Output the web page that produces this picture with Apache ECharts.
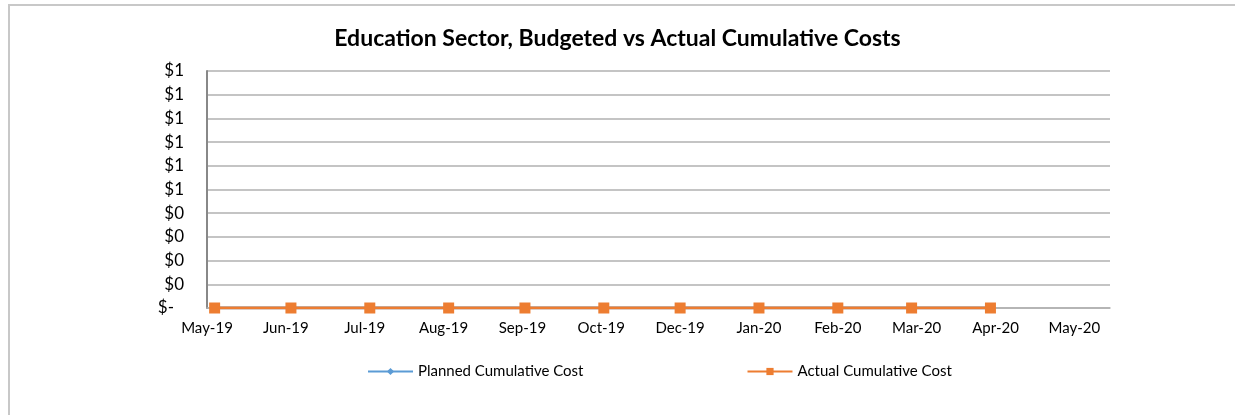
<!DOCTYPE html>
<html lang="en" style="height: 100%">
<head>
  <meta charset="utf-8">
</head>
<body style="height: 100%; margin: 0; background: #fff">
  <div id="frame" style="position: absolute; left: 8px; top: 4px; right: 0; bottom: 0; border-top: 2px solid #c8c8c8; border-left: 2px solid #c8c8c8;"></div>
  <div id="container" style="position: absolute; left: 0; top: 0; width: 1235px; height: 415px"></div>
  <script type="text/javascript" src="https://cdn.jsdelivr.net/npm/echarts@6/dist/echarts.min.js"></script>

  <script type="text/javascript">
    // data points (first of each month) and their cumulative cost values
    var pointDates = ['2019-06-01', '2019-07-01', '2019-08-01', '2019-09-01', '2019-10-01', '2019-11-01',
      '2019-12-01', '2020-01-01', '2020-02-01', '2020-03-01', '2020-04-01'];
    var plannedCost = [0, 0, 0, 0, 0, 0, 0, 0, 0, 0, 0];
    var actualCost = [0, 0, 0, 0, 0, 0, 0, 0, 0, 0, 0];

    // excel date axis: first tick 29 May 2019, major unit 31 days
    var axisStart = '2019-05-29';
    var tickLabels = ['May-19', 'Jun-19', 'Jul-19', 'Aug-19', 'Sep-19', 'Oct-19',
      'Dec-19', 'Jan-20', 'Feb-20', 'Mar-20', 'Apr-20', 'May-20'];

    function dayOffset(s) {
      return (Date.parse(s) - Date.parse(axisStart)) / 86400000;
    }
    function toPoints(values) {
      return values.map(function (v, i) { return [dayOffset(pointDates[i]), v]; });
    }

    var font = 'Lato, "Open Sans", sans-serif';
    var dom = document.getElementById('container');
    var myChart = echarts.init(dom, null, { renderer: 'canvas' });
    var option = {
      animation: false,
      title: {
        text: 'Education Sector, Budgeted vs Actual Cumulative Costs',
        left: 'center',
        top: 22,
        textStyle: { fontFamily: font, fontSize: 23, fontWeight: 'bold', color: '#000' }
      },
      legend: {
        left: 362,
        top: 359,
        itemWidth: 45,
        itemHeight: 9,
        itemGap: 163,
        textStyle: { fontFamily: font, fontSize: 15, color: '#000' },
        data: ['Planned Cumulative Cost', 'Actual Cumulative Cost']
      },
      grid: { left: 207, right: 125, top: 71, bottom: 107 },
      xAxis: {
        type: 'value',
        min: 0,
        max: 355,
        interval: 31,
        axisLine: { show: true, lineStyle: { color: '#b0b0b0', width: 1.5 } },
        axisTick: { show: false },
        splitLine: { show: false },
        axisLabel: {
          margin: 13,
          fontFamily: font,
          fontSize: 15,
          color: '#000',
          showMaxLabel: false,
          formatter: function (v) {
            var i = Math.round(v / 31);
            return (v % 31 === 0 && tickLabels[i]) ? tickLabels[i] : '';
          }
        }
      },
      yAxis: {
        type: 'value',
        min: 0,
        max: 1,
        interval: 0.1,
        axisLine: { show: true, lineStyle: { color: '#888', width: 2 } },
        axisTick: { show: false },
        splitLine: { lineStyle: { color: '#b0b0b0', width: 1.5 } },
        axisLabel: {
          margin: 23,
          fontFamily: font,
          fontSize: 17,
          color: '#000',
          formatter: function (v) {
            return v === 0 ? '{z|$-}' : '$' + Math.round(v);
          },
          rich: { z: { fontFamily: font, fontSize: 17, color: '#000', padding: [0, 10, 0, 0] } }
        }
      },
      series: [
        {
          name: 'Planned Cumulative Cost',
          type: 'line',
          data: toPoints(plannedCost),
          symbol: 'diamond',
          symbolSize: 9,
          lineStyle: { color: '#5B9BD5', width: 3 },
          itemStyle: { color: '#5B9BD5' }
        },
        {
          name: 'Actual Cumulative Cost',
          type: 'line',
          data: toPoints(actualCost),
          symbol: 'rect',
          symbolSize: 11,
          lineStyle: { color: '#ED7D31', width: 3 },
          itemStyle: { color: '#ED7D31' }
        }
      ]
    };
    myChart.setOption(option);
    window.addEventListener('resize', myChart.resize);
  </script>
</body>
</html>
